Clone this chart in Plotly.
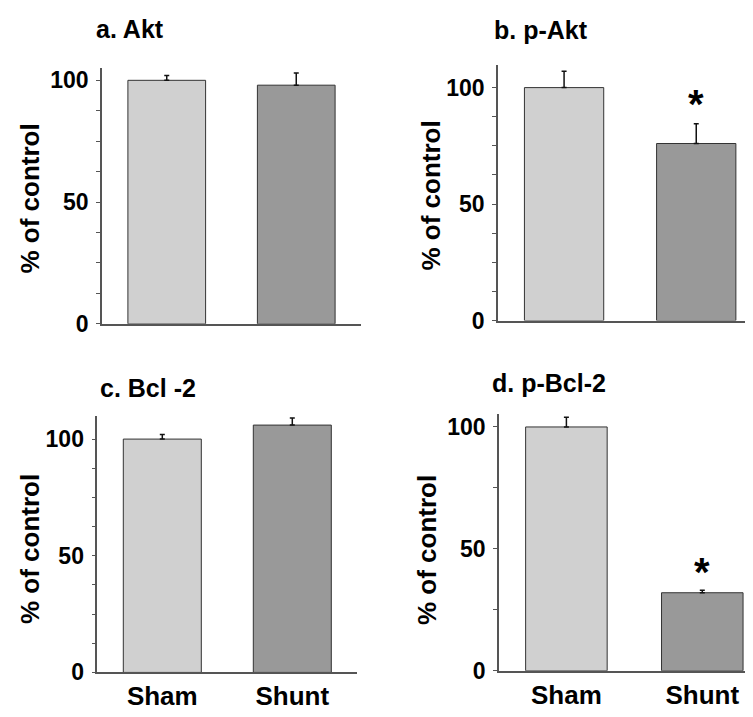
import plotly.graph_objects as go

categories = ["Sham", "Shunt"]
panel_titles = ["a. Akt", "b. p-Akt", "c. Bcl -2", "d. p-Bcl-2"]
akt = [100, 98]
akt_err = [2, 5]
pakt = [100, 76]
pakt_err = [7, 8.5]
bcl2 = [100, 106]
bcl2_err = [2, 3]
pbcl2 = [100, 32]
pbcl2_err = [4, 1]
significant = [False, True, False, True]

W, H = 753, 717
FONT = "Liberation Sans, Arial, sans-serif"
bar_colors = ["#d0d0d0", "#999999"]

def px(x):
    return x / W

def py(y):
    return 1 - y / H

panels = [
    dict(x0=94, x1=353, yb=321.7, yt=61, ymax=105.1, xr=[-0.5, 1.5], step=12.5),
    dict(x0=490, x1=753, yb=318.3, yt=58.3, ymax=109.6, xr=[-0.5, 1.49], step=12.5),
    dict(x0=89.3, x1=349.3, yb=676.7, yt=416, ymax=109.7, xr=[-0.5, 1.5], step=12.5),
    dict(x0=491, x1=747.7, yb=675, yt=413.3, ymax=105.4, xr=[-0.496, 1.393], step=25),
]
values = [akt, pakt, bcl2, pbcl2]
errors = [akt_err, pakt_err, bcl2_err, pbcl2_err]

fig = go.Figure()
for i, (vals, errs) in enumerate(zip(values, errors)):
    n = "" if i == 0 else str(i + 1)
    fig.add_trace(go.Bar(
        x=categories, y=vals, width=0.6,
        marker=dict(color=bar_colors, line=dict(color="#333333", width=1)),
        error_y=dict(type="data", array=errs, arrayminus=[0] * len(errs),
                     symmetric=False, color="#111111", thickness=1.5, width=2.5),
        xaxis="x" + n, yaxis="y" + n, showlegend=False, hoverinfo="skip",
    ))

layout = dict(width=W, height=H, margin=dict(l=0, r=0, t=0, b=0),
              plot_bgcolor="white", paper_bgcolor="white", showlegend=False)
annotations = []
ylabel_pos = [(22, 194), (423, 191), (22, 551), (419, 552)]
title_pos = [(86, 21), (484, 22), (90, 387), (482, 382)]
star_shift = [0, 4, 0, 2]
for i, p in enumerate(panels):
    n = "" if i == 0 else str(i + 1)
    step = p["step"]
    tv = []
    tt = []
    k = 0
    while k * step <= 100 + 1e-9:
        v = k * step
        tv.append(v)
        tt.append("<b>%d</b>" % v if v in (0, 50, 100) else "")
        k += 1
    layout["xaxis" + n] = dict(
        domain=[px(p["x0"]), px(p["x1"])], range=p["xr"], anchor="y" + n,
        showline=True, linecolor="#555555", linewidth=1.5, ticks="",
        showgrid=False, zeroline=False, fixedrange=True,
        showticklabels=(i >= 2), tickfont=dict(family=FONT, size=26, color="black"),
        tickvals=categories, ticktext=["<b>%s</b>" % c for c in categories],
    )
    layout["yaxis" + n] = dict(
        domain=[py(p["yb"]), py(p["yt"])], range=[0, p["ymax"]], anchor="x" + n,
        showline=True, linecolor="#555555", linewidth=1.5, ticks="outside",
        ticklen=4, tickcolor="#555555", tickwidth=1, showgrid=False,
        zeroline=False, tickvals=tv, ticktext=tt, ticklabelstandoff=3,
        tickfont=dict(family=FONT, size=23, color="black"), fixedrange=True,
    )
    annotations.append(dict(
        text="<b>% of control</b>", textangle=-90, xref="paper", yref="paper",
        x=px(ylabel_pos[i][0]), y=py(ylabel_pos[i][1]), xanchor="center",
        yanchor="middle", showarrow=False,
        font=dict(family=FONT, size=26, color="black")))
    annotations.append(dict(
        text="<b>%s</b>" % panel_titles[i], xref="paper", yref="paper",
        x=px(title_pos[i][0]), y=py(title_pos[i][1]), xanchor="left",
        yanchor="middle", showarrow=False,
        font=dict(family=FONT, size=25, color="black")))
    if significant[i]:
        annotations.append(dict(
            text="<b>*</b>", xref="x" + n, yref="y" + n,
            x=categories[1], y=values[i][1] + errors[i][1],
            xanchor="center", yanchor="bottom", yshift=star_shift[i] - 8,
            showarrow=False,
            font=dict(family=FONT, size=40, color="black")))

layout["annotations"] = annotations
fig.update_layout(**layout)
fig.write_html("out.html")
